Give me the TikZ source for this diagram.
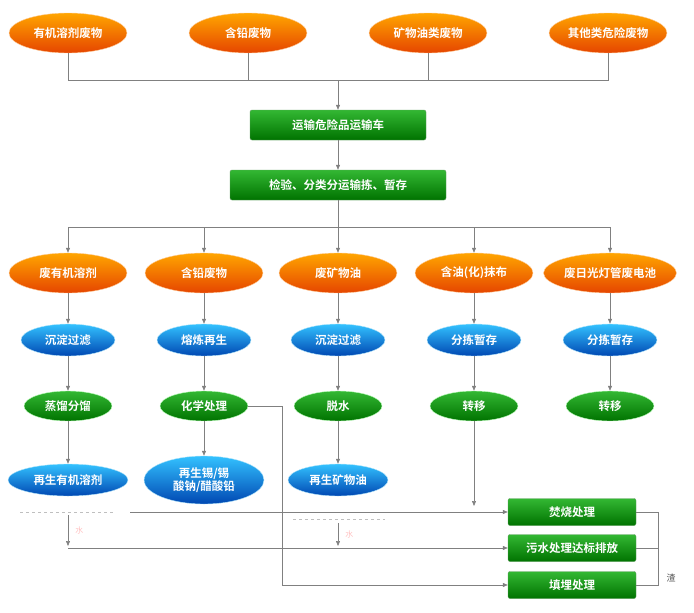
\documentclass[tikz,border=0pt]{standalone}
\usepackage{fontspec}
\setmainfont{Noto Sans CJK SC}[BoldFont={Noto Sans CJK SC Bold}]
\usetikzlibrary{shapes.geometric,arrows.meta}
\tikzset{
 every node/.style={font=\bfseries\fontsize{11.5}{13}\selectfont, text=white, inner sep=1pt},
 src/.style={ellipse, minimum width=118pt, minimum height=40pt, top color=orange!70!yellow, bottom color=orange!60!red!90!black, draw=orange!40},
 box/.style={rectangle, rounded corners=2pt, minimum height=30pt, top color=green!65!black!80, bottom color=green!45!black, draw=green!25!gray},
 blu/.style={ellipse, minimum width=94pt, minimum height=32pt, top color=cyan!70!blue!80, bottom color=blue!60!cyan!70!black, draw=cyan!30},
 grn/.style={ellipse, minimum width=88pt, minimum height=30pt, top color=green!65!black!80, bottom color=green!45!black, draw=green!25},
 ln/.style={draw=gray, line width=0.6pt},
 arr/.style={ln, -{Triangle[length=5pt,width=4pt]}},
 dsh/.style={draw=gray!50, dashed, line width=0.6pt},
}
\begin{document}
\begin{tikzpicture}[x=1pt,y=-1pt]
\useasboundingbox (0,0) rectangle (694,613);
% sources
\node[src] (s1) at (68,33) {有机溶剂废物};
\node[src] (s2) at (248,33) {含铅废物};
\node[src] (s3) at (428,33) {矿物油类废物};
\node[src] (s4) at (608,33) {其他类危险废物};
\coordinate (j1) at (338,80);
\path[ln] (s1) |- (j1) (s4) |- (j1) (s2) -- (s2|-j1) (s3) -- (s3|-j1);
\node[box, minimum width=176pt] (car) at (338,125) {运输危险品运输车};
\node[box, minimum width=216pt] (chk) at (338,185) {检验、分类分运输拣、暂存};
\draw[arr] (j1) -- (car);
\draw[arr] (car) -- (chk);
\coordinate (j2) at (338,227);
\draw[ln] (chk) -- (j2);
% columns
\foreach \x/\a/\b/\c in {68/废有机溶剂/沉淀过滤/蒸馏分馏, 204/含铅废物/熔炼再生/化学处理, 338/废矿物油/沉淀过滤/脱水, 474/含油(化)抹布/分拣暂存/转移, 610/废日光灯管废电池/分拣暂存/转移}{
 \node[src] (a\x) at (\x,273) {\a};
 \node[blu] (b\x) at (\x,340) {\b};
 \node[grn] (c\x) at (\x,406) {\c};
 \draw[arr] (j2-|a\x) -- (a\x);
 \draw[arr] (a\x) -- (b\x);
 \draw[arr] (b\x) -- (c\x);
}
\draw[ln] (j2-|a68) -- (j2-|a610);
\node[blu, minimum width=120pt] (d68) at (68,480) {再生有机溶剂};
\node[blu, minimum width=120pt, minimum height=48pt, align=center] (d204) at (204,480) {再生锡/锡\\酸钠/醋酸铅};
\node[blu, minimum width=100pt] (d338) at (338,480) {再生矿物油};
\foreach \x in {68,204,338}{\draw[arr] (c\x) -- (d\x);}
% treatment
\node[box, minimum width=128pt, minimum height=27pt] (t1) at (572,512) {焚烧处理};
\node[box, minimum width=128pt, minimum height=27pt] (t2) at (572,548) {污水处理达标排放};
\node[box, minimum width=128pt, minimum height=27pt] (t3) at (572,585) {填埋处理};
\draw[arr] (c474) -- (474,506);
\coordinate (h1) at (130,512);
\draw[arr] (h1) -- (t1);
\draw[dsh] (20,512) -- (115,512);
\draw[dsh] (293,519) -- (385,519);
\draw[arr] (68,515) -- node[right=6pt, text=red!25, font=\fontsize{8}{9}\selectfont] {水} (68,546);
\draw[arr] (338,523) -- node[right=6pt, text=red!25, font=\fontsize{8}{9}\selectfont] {水} (338,546);
\draw[arr] (68,548) -- (t2);
\draw[arr] (c204.east) -| (282,585) -- (t3);
\draw[ln] (t1.east) -| (658,585) -- (t3.east) (t2.east) -- (658,548);
\node[text=gray!60!black, font=\fontsize{9}{10}\selectfont] (zha) at (671,578) {渣};
\end{tikzpicture}
\end{document}
